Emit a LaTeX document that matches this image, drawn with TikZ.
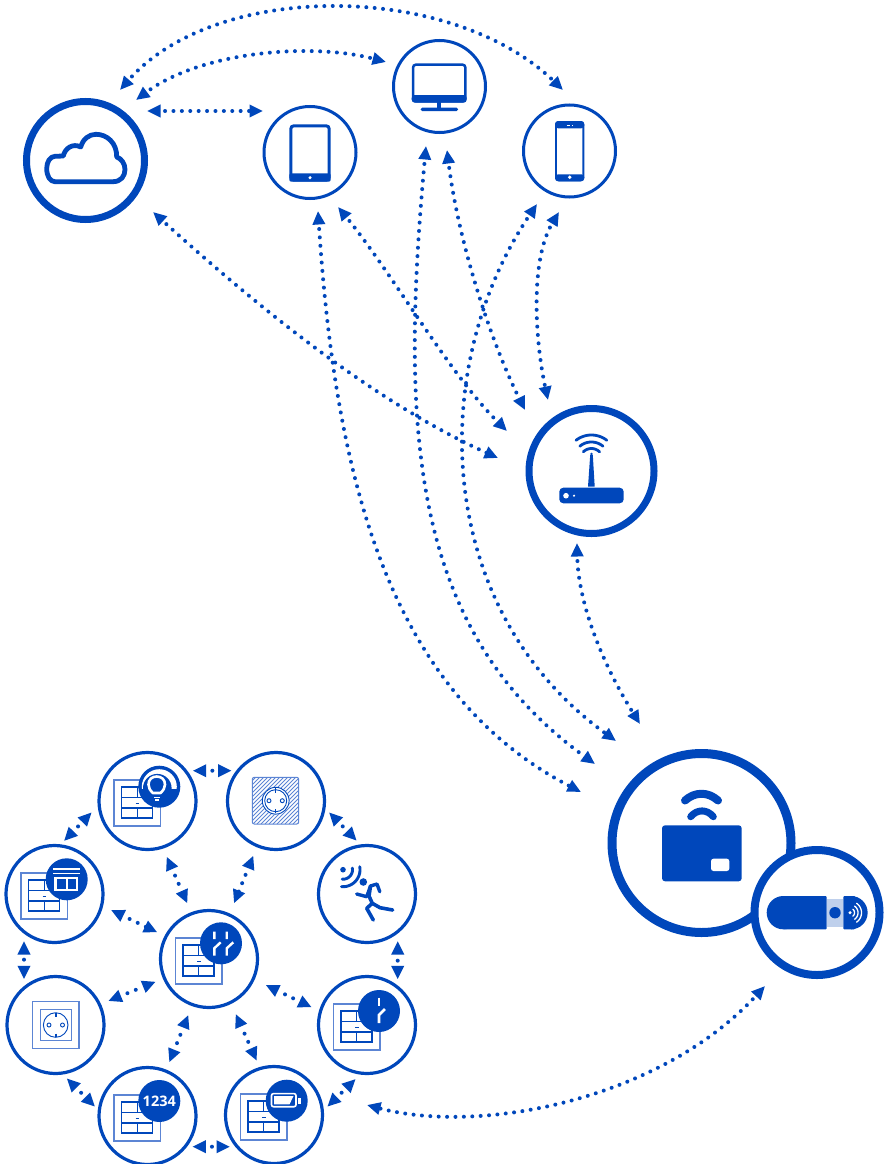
\documentclass[tikz,border=0pt]{standalone}
\usepackage{fontspec}
\setmainfont{Open Sans}
\usetikzlibrary{arrows.meta}
\definecolor{brand}{HTML}{0047BB}
\definecolor{brandlight}{HTML}{5C85D4}
\definecolor{brandpale}{HTML}{BFD0EC}
\newcommand{\arcat}[5]{plot[smooth,domain=#4:#5,samples=24] ({#1+#3*cos(\x)},{#2-#3*sin(\x)})}
\tikzset{
  x=1pt,y=-1pt,
  ring/.style={circle,draw=brand,fill=white,inner sep=0pt},
  bigring/.style={ring,line width=7pt,minimum size=118pt},
  hubring/.style={ring,line width=7pt,minimum size=125pt},
  gatering/.style={ring,line width=9pt,minimum size=179pt},
  stickring/.style={ring,line width=8pt,minimum size=125pt},
  midring/.style={ring,line width=3pt,minimum size=92pt},
  smallring/.style={ring,line width=3.2pt,minimum size=97pt},
  badge/.style={circle,fill=brand,inner sep=0pt,minimum size=42pt},
  tipa/.tip={Triangle[length=13.5pt,width=12pt]},
  link/.style={brand,line width=4pt,line cap=round,dash pattern=on 0pt off 8.4pt,dash phase=3pt,tipa-tipa},
  onedot/.style={link,dash pattern=on 0pt off 20pt,dash phase=13pt},
  twodot/.style={link,dash pattern=on 0pt off 9pt,dash phase=1pt},
  iconline/.style={brand,line width=#1,line cap=round,line join=round},
  whiteline/.style={white,line width=#1,line cap=butt},
  panelicon/.pic={
    \draw[brandlight,line width=1.3pt] (-33.5,-21) rectangle (13,25);
    \draw[brand,line width=1.1pt] (-26,-14) rectangle (5,17);
    \draw[brand,line width=1.1pt] (-26,-3.5) -- (5,-3.5) (-26,7) -- (5,7) (-10.2,-14) -- (-10.2,-3.5) (-10.2,7) -- (-10.2,17);
    \draw[brand,line width=.9pt] (-12,2) -- (-8.5,2);
  },
}
\begin{document}
\begin{tikzpicture}
\useasboundingbox (0,0) rectangle (886,1164);
\fill[white] (0,0) rectangle (886,1164);

% ---------- upper rings
\node[bigring] (cloud) at (85.5,160.5) {};
\node[midring] (tablet) at (310,152.5) {};
\node[midring] (monitor) at (439.5,86.5) {};
\node[midring] (phone) at (569.5,151) {};
\node[hubring] (router) at (591.5,471) {};
\node[gatering] (gateway) at (701.5,843) {};
\node[stickring] (stick) at (817,912.5) {};

% cloud
\draw[brand,line width=4.8pt,line join=round] (55,181.7) -- (113,181.7) .. controls (121,181.7) and (125,176) .. (125,169.5) .. controls (125,163) and (121,158.5) .. (116.7,157) .. controls (117,143) and (107,134.3) .. (96,134.3) .. controls (89,134.3) and (83,139) .. (80.7,147) .. controls (73,143) and (65,148) .. (63.3,156) -- (55,156.3) .. controls (50,156.5) and (46.7,162) .. (46.7,168.5) .. controls (46.7,176) and (50,181.7) .. (55,181.7) -- cycle;

% tablet
\draw[brand,line width=3pt,rounded corners=3pt] (290.8,125.8) rectangle (329.2,180.2);
\fill[brand,rounded corners=2pt] (289.3,173.3) rectangle (330.7,181.7);
\fill[white] (310,177.7) circle[radius=1.7];

% monitor
\draw[brand,line width=2.5pt,rounded corners=3pt] (413,64.6) rectangle (465.4,101.4);
\fill[brand,rounded corners=3pt] (411.7,95) rectangle (466.7,102.7);
\fill[brand] (437.3,102) rectangle (441.3,108);
\fill[brand,rounded corners=1.5pt] (420.7,107.7) rectangle (458,111);

% phone
\draw[brand,line width=1.9pt,rounded corners=3pt] (556,122) rectangle (583.3,180.3);
\fill[brand,rounded corners=3pt] (555,121) rectangle (584.3,128.3);
\fill[brand,rounded corners=3pt] (555,174.3) rectangle (584.3,181.3);
\fill[white] (569.7,177.2) circle[radius=1.9];
\draw[white,line width=.8pt] (566.5,125.2) -- (570,125.2) (571.8,125.2) -- (572.8,125.2);

% router
\fill[brand,rounded corners=4pt] (559.3,487.7) rectangle (623.7,503.3);
\fill[white] (566,495.7) circle[radius=2.8];
\fill[white] (574,495.7) circle[radius=1.2];
\fill[brand] (590.2,455) -- (592.8,455) -- (594.7,486.7) -- (588,486.7) -- cycle;
\fill[brand] (591.4,454) circle[radius=1.4];
\draw[iconline=2.8pt] \arcat{591.4}{460}{25}{52}{128};
\draw[iconline=2.8pt] \arcat{591.4}{460}{18}{50}{130};
\draw[iconline=2.8pt] \arcat{591.4}{460}{11.5}{45}{135};

% gateway
\fill[brand,rounded corners=3pt] (662,825.3) rectangle (741.7,881.3);
\fill[white,rounded corners=2.5pt] (711,858.7) rectangle (729.3,871);
\draw[iconline=8pt] (685,800.5) .. controls (695,791.5) and (708,791.5) .. (718,800.5);
\draw[iconline=7pt] (690.7,816.7) .. controls (697,809) and (707,809) .. (713.3,816.7);

% stick
\fill[brand,rounded corners=16.6pt] (766.7,896) rectangle (800,929.3);
\fill[brand,rounded corners=1pt] (783,896) rectangle (826.7,929.3);
\fill[brandpale] (826.7,899) rectangle (843.3,926.7);
\fill[brand] (835,912.7) circle[radius=5.7];
\fill[brand,rounded corners=1pt] (843.3,896) rectangle (855,929.3);
\fill[brand] (851,896) arc[start angle=-90,end angle=90,radius=16.65] -- cycle;
\fill[white] (850,912.7) circle[radius=1.7];
\draw[white,line width=1.3pt,line cap=round] \arcat{850}{912.7}{4.5}{-50}{50};
\draw[white,line width=1.3pt,line cap=round] \arcat{850}{912.7}{8}{-55}{55};
\draw[white,line width=1.3pt,line cap=round] \arcat{850}{912.7}{11.5}{-55}{55};

% ---------- lower rings
\node[smallring] (lamp) at (147.5,801) {};
\node[smallring] (hatched) at (276,801) {};
\node[smallring] (motion) at (367,894) {};
\node[smallring] (switch) at (367,1025) {};
\node[smallring] (battery) at (274,1115) {};
\node[smallring] (count) at (147.5,1116) {};
\node[smallring] (socket) at (55.5,1025) {};
\node[smallring] (shutter) at (54.5,894) {};
\node[smallring] (centre) at (209,959) {};

\pic (lamp-panel) at (147.5,801) {panelicon};
\pic (shutter-panel) at (54.5,894) {panelicon};
\pic (centre-panel) at (209,959) {panelicon};
\pic (switch-panel) at (367,1025) {panelicon};
\pic (battery-panel) at (274,1115) {panelicon};
\pic (count-panel) at (147.5,1116) {panelicon};

% lamp badge
\node[badge] (lamp-badge) at (159.3,786.7) {};
\begin{scope}
  \clip (135,760) rectangle (185,788.5);
  \fill[white] (159.3,786.7) circle[radius=17.5];
\end{scope}
\fill[brand] (157.3,788.2) circle[radius=14.3];
\draw[white,line width=2.6pt,line join=round] (152.8,793) .. controls (150,790) and (148.5,788) .. (148.5,784.5) .. controls (148.5,779.5) and (152,776.5) .. (156.7,776.5) .. controls (161.4,776.5) and (165,779.5) .. (165,784.5) .. controls (165,788) and (163.4,790) .. (160.6,793) -- cycle;
\fill[white] (153.5,796.6) rectangle (160,798);
\fill[white] (155,799.2) rectangle (158.5,800.6);

% shutter badge
\node[badge] (shutter-badge) at (66.7,879.3) {};
\fill[white] (53.3,868) rectangle (80,869.5);
\fill[white] (53.3,872.5) rectangle (80,874);
\fill[white] (54.3,877) rectangle (78.3,890.7);
\fill[brand] (57.3,879.3) rectangle (65.7,889);
\fill[brand] (67.7,879.3) rectangle (76.3,889);

% centre badge
\node[badge] (centre-badge) at (221,943.3) {};
\draw[whiteline=2.4pt] (214.3,931.6) -- (214.3,939) (214.3,955.6) -- (214.3,948.3) -- (220.7,942.3);
\draw[whiteline=2.4pt] (226.7,931.6) -- (226.7,939) (226.7,955.6) -- (226.7,948.3) -- (233.3,942.3);

% switch badge
\node[badge] (switch-badge) at (379,1011) {};
\draw[whiteline=2.6pt] (379,997.7) -- (379,1006);
\draw[whiteline=2.6pt] (379,1023) -- (379,1015) -- (385,1009);

% battery badge
\node[badge] (battery-badge) at (286.7,1100.7) {};
\draw[white,line width=1.6pt,rounded corners=2pt] (271.5,1093.6) rectangle (296,1106.7);
\fill[white] (274,1096) -- (293.5,1096) -- (289.5,1104.4) -- (274,1104.4) -- cycle;
\fill[white] (297.7,1097.5) rectangle (301,1104);

% count badge
\node[badge,text=white,font=\fontsize{14.5}{14.5}\selectfont\bfseries] (count-badge) at (159.3,1101) {1234};

% socket
\draw[brandlight,line width=1.2pt] (32.3,1001.7) rectangle (79,1048.3);
\draw[brandlight,line width=1.5pt] (40.3,1009.7) rectangle (71.7,1040.7);
\draw[brand,line width=.9pt] (55.7,1025) circle[radius=12.3];
\draw[brand,line width=.9pt] (49,1025) circle[radius=2] (62.5,1025) circle[radius=2];
\draw[brand,line width=1.6pt] (55.7,1012.7) -- (55.7,1016.5) (55.7,1033.5) -- (55.7,1037.3);

% hatched socket
\begin{scope}
  \clip[rounded corners=2pt] (252.3,777.3) rectangle (298.7,824);
  \foreach \hx in {205,209,...,300}
    \draw[brandlight,line width=.8pt] (\hx,824) -- (\hx+46.7,777.3);
\end{scope}
\draw[brandlight,line width=1pt,rounded corners=2pt] (252.3,777.3) rectangle (298.7,824);
\fill[white] (275.7,800.7) circle[radius=13.8];
\draw[brand,line width=.9pt] (275.7,800.7) circle[radius=13.4] (275.7,800.7) circle[radius=11];
\draw[brand,line width=.9pt] (269,800.7) circle[radius=2] (282.3,800.7) circle[radius=2];
\draw[brand,line width=1.4pt] (275.7,788) -- (275.7,792.5) (275.7,809) -- (275.7,813.4);

% motion
\fill[brand] (343,869.7) circle[radius=2.8];
\draw[iconline=2.9pt] \arcat{343}{869.7}{9.5}{10}{-95};
\draw[iconline=2.9pt] \arcat{343}{869.7}{17}{10}{-95};
\fill[brand] (363.3,882) circle[radius=3.8];
\draw[iconline=3.4pt] (356.7,894) -- (366.7,896.7) -- (370.5,886) -- (377,884) -- (379.8,891.7);
\draw[iconline=3.6pt] (370.5,886) -- (369,896) -- (372.3,903.3) -- (380,907.7) -- (392.7,910);
\draw[iconline=3.6pt] (372.3,903.3) -- (366.7,908.3) -- (373.3,920);

% ---------- connector ends
\coordinate (cp1) at (120,90);   \coordinate (cp2) at (563,90);
\coordinate (cm1) at (136,100);  \coordinate (cm2) at (386,62);
\coordinate (ct1) at (147,111);  \coordinate (ct2) at (263,111);
\coordinate (cr1) at (153,212);  \coordinate (cr2) at (498,458);
\coordinate (tg1) at (318,211);  \coordinate (tg2) at (581,792);
\coordinate (tr1) at (338,207);  \coordinate (tr2) at (507,431);
\coordinate (mg1) at (426,146);  \coordinate (mg2) at (595,764);
\coordinate (mr1) at (447,150);  \coordinate (mr2) at (525,410);
\coordinate (pg1) at (537,204);  \coordinate (pg2) at (616,741);
\coordinate (pr1) at (559,212);  \coordinate (pr2) at (548,400);
\coordinate (rg1) at (577,543);  \coordinate (rg2) at (640,724);
\coordinate (sb1) at (765,986);  \coordinate (sb2) at (367,1105);

\coordinate (ls1) at (91.7,812.3);   \coordinate (ls2) at (64,841);
\coordinate (lh1) at (192.7,770.7);  \coordinate (lh2) at (231.7,770.7);
\coordinate (lc1) at (166.7,856.7);  \coordinate (lc2) at (187.3,903.3);
\coordinate (hc1) at (253.3,855.7);  \coordinate (hc2) at (234,903.3);
\coordinate (hm1) at (329,812.3);    \coordinate (hm2) at (356.7,840.7);
\coordinate (ms1) at (397.7,941);    \coordinate (ms2) at (397.7,979.3);
\coordinate (wc1) at (311.7,1007.3); \coordinate (wc2) at (265.7,985);
\coordinate (wb1) at (355.7,1079);   \coordinate (wb2) at (327.3,1106.7);
\coordinate (bc1) at (256.7,1060.7); \coordinate (bc2) at (235.7,1014);
\coordinate (bn1) at (192.3,1146.7); \coordinate (bn2) at (230,1146.7);
\coordinate (nc1) at (169.3,1062.3); \coordinate (nc2) at (188.3,1015);
\coordinate (nk1) at (95,1106.7);    \coordinate (nk2) at (66.7,1078.3);
\coordinate (kc1) at (108.3,1001);   \coordinate (kc2) at (155.7,981.7);
\coordinate (ks1) at (24,979.3);     \coordinate (ks2) at (24,941);
\coordinate (sc1) at (111,910);      \coordinate (sc2) at (157.3,932.3);

% ---------- long connectors
\draw[link] (cp1) .. controls (215,-19) and (450,-19) .. (cp2);
\draw[link] (cm1) .. controls (200,52) and (310,42) .. (cm2);
\draw[link] (ct1) -- (ct2);
\draw[link] (cr1) .. controls (250,300) and (370,400) .. (cr2);
\draw[link] (tg1) .. controls (335,470) and (385,690) .. (tg2);
\draw[link] (tr1) .. controls (390,270) and (450,375) .. (tr2);
\draw[link] (mg1) .. controls (400,430) and (410,630) .. (mg2);
\draw[link] (mr1) .. controls (458,240) and (490,340) .. (mr2);
\draw[link] (pg1) .. controls (425,370) and (435,610) .. (pg2);
\draw[link] (pr1) .. controls (530,260) and (535,340) .. (pr2);
\draw[link] (rg1) .. controls (578,600) and (600,660) .. (rg2);
\draw[link] (sb1) .. controls (660,1100) and (480,1135) .. (sb2);

% ---------- short connectors
\foreach \ea/\eb in {ls1/ls2,lh1/lh2,hm1/hm2,ms1/ms2,wb1/wb2,bn1/bn2,nk1/nk2,ks1/ks2}
  \draw[onedot] (\ea) -- (\eb);
\foreach \ea/\eb in {lc1/lc2,hc1/hc2,wc1/wc2,bc1/bc2,nc1/nc2,kc1/kc2,sc1/sc2}
  \draw[twodot] (\ea) -- (\eb);
\end{tikzpicture}
\end{document}
